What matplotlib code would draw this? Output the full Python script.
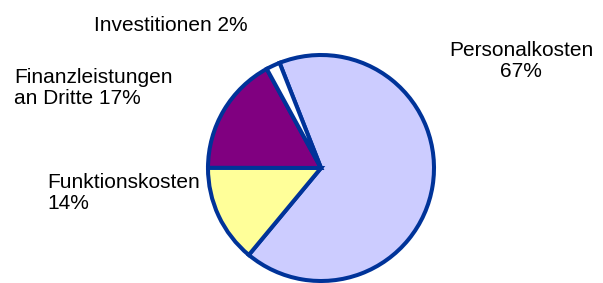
import matplotlib.pyplot as plt

categories = ["Personalkosten", "Funktionskosten", "Finanzleistungen an Dritte", "Investitionen"]
shares = [67, 14, 17, 2]
colors = ["#CCCCFF", "#FFFF99", "#800080", "#FFFFFF"]
labels = ["Personalkosten\n67%", "Funktionskosten\n14%", "Finanzleistungen\nan Dritte 17%", "Investitionen 2%"]


def main():
    plt.rcParams["font.family"] = ["Liberation Sans", "DejaVu Sans"]
    W, H = 603, 283
    fig = plt.figure(figsize=(W / 100, H / 100), dpi=100)
    ax = fig.add_axes([0, 0, 1, 1])

    ax.pie(shares, colors=colors, startangle=111.5, counterclock=False,
           center=(321, H - 168), radius=113,
           wedgeprops=dict(edgecolor="#003399", linewidth=2.9))

    ax.set_xlim(0, W)
    ax.set_ylim(0, H)
    ax.set_aspect("equal")
    ax.axis("off")

    fs = 15
    ax.text(521, H - 77, labels[0], ha="center", va="baseline", fontsize=fs, linespacing=1.15)
    ax.text(47, H - 209, labels[1], ha="left", va="baseline", fontsize=fs, linespacing=1.15)
    ax.text(14, H - 104, labels[2], ha="left", va="baseline", fontsize=fs, linespacing=1.15)
    ax.text(94, H - 31, labels[3], ha="left", va="baseline", fontsize=fs)

    fig.savefig("out.png", dpi=100)


if __name__ == "__main__":
    main()
